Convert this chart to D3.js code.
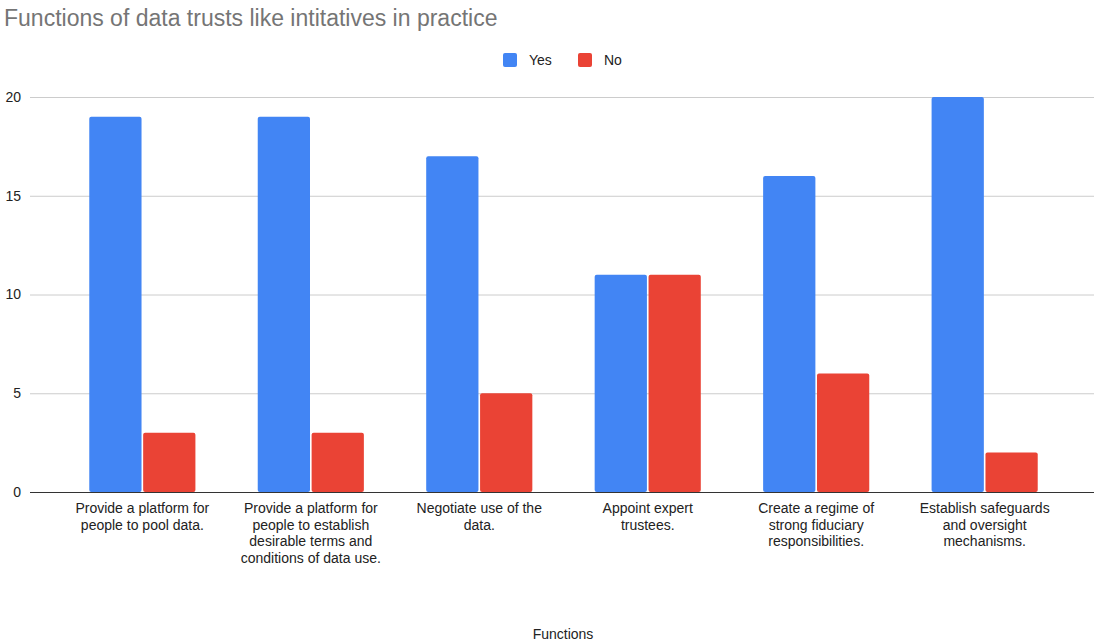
<!DOCTYPE html>
<html>
<head>
<meta charset="utf-8">
<script src="https://cdn.jsdelivr.net/npm/d3@7"></script>
<style>
	body { margin: 0; background: #fff; }
	text { font-family: Arial, "Liberation Sans", sans-serif; }
</style>
</head>
<body>
<div id="chart"></div>
<script>
var categories = [
	"Provide a platform for people to pool data.",
	"Provide a platform for people to establish desirable terms and conditions of data use.",
	"Negotiate use of the data.",
	"Appoint expert trustees.",
	"Create a regime of strong fiduciary responsibilities.",
	"Establish safeguards and oversight mechanisms."
]
var yesValues = [19, 19, 17, 11, 16, 20]
var noValues = [3, 3, 5, 11, 6, 2]
var seriesNames = ["Yes", "No"]
var seriesColors = ["#4285F4", "#EA4335"]
var yTicks = [0, 5, 10, 15, 20]

var width = 1096,
	height = 643

var plotLeft = 30,
	plotRight = 1094,
	plotTop = 97,
	plotBottom = 492

var svg = d3.select('#chart').append('svg')
	.attr('width', width)
	.attr('height', height);

var data = categories.map(function (c, i) {
	return { name: c, Yes: yesValues[i], No: noValues[i] }
})

var x0 = d3.scaleBand()
	.range([plotLeft + 2, plotRight + 1])
	.domain(categories)
	.paddingInner(0.37)
	.paddingOuter(0.34);

var x1 = d3.scaleBand()
	.range([0, x0.bandwidth()])
	.domain(seriesNames)
	.paddingInner(0.03);

var y = d3.scaleLinear()
	.range([plotBottom, plotTop])
	.domain([0, 20]);

var color = d3.scaleOrdinal()
	.domain(seriesNames)
	.range(seriesColors)

// title
svg.append('text')
	.attr('x', 4)
	.attr('y', 26)
	.attr('font-size', 23)
	.attr('fill', '#757575')
	.text('Functions of data trusts like intitatives in practice')

// gridlines + y labels
var y_axis = d3.axisLeft(y)
	.tickValues(yTicks)
	.tickSize(-(plotRight - plotLeft))
	.tickPadding(8)

var gy = svg.append('g')
	.attr('transform', 'translate(' + plotLeft + ',0)')
	.call(y_axis)
gy.select('.domain').remove()
gy.selectAll('line')
	.attr('stroke', '#cccccc')
gy.selectAll('text')
	.attr('x', -9)
	.attr('font-size', 14)
	.attr('fill', '#222')

// bars
var group = svg.selectAll('.group')
	.data(data)
	.enter().append('g')
	.attr('class', 'group')
	.attr('transform', function (d) {
		return 'translate(' + x0(d.name) + ',0)'
	})

group.selectAll('rect')
	.data(function (d) {
		return seriesNames.map(function (s) {
			return { key: s, value: d[s] }
		})
	})
	.enter().append('rect')
	.attr('x', function (d) { return x1(d.key) })
	.attr('y', function (d) { return y(d.value) })
	.attr('width', x1.bandwidth())
	.attr('height', function (d) { return y(0) - y(d.value) })
	.attr('rx', 2)
	.attr('fill', function (d) { return color(d.key) })

// baseline
svg.append('line')
	.attr('x1', plotLeft)
	.attr('x2', plotRight)
	.attr('y1', y(0) + 0.5)
	.attr('y2', y(0) + 0.5)
	.attr('stroke', '#333')

// x labels
var x_axis = d3.axisBottom(x0)
	.tickSize(0)
	.tickPadding(0)

var gx = svg.append('g')
	.attr('transform', 'translate(0,' + plotBottom + ')')
	.call(x_axis)
gx.select('.domain').remove()
gx.selectAll('text')
	.attr('font-size', 14)
	.attr('fill', '#222')
	.call(wrap, 145)

function wrap(texts, maxWidth) {
	texts.each(function () {
		var text = d3.select(this)
		var words = text.text().split(/\s+/)
		text.text(null)
		var line = []
		var lineNo = 0
		var tspan = text.append('tspan').attr('x', 0).attr('y', 21)
		words.forEach(function (w) {
			line.push(w)
			tspan.text(line.join(' '))
			if (tspan.node().getComputedTextLength() > maxWidth && line.length > 1) {
				line.pop()
				tspan.text(line.join(' '))
				line = [w]
				lineNo++
				tspan = text.append('tspan')
					.attr('x', 0)
					.attr('y', 21 + lineNo * 16.5)
					.text(w)
			}
		})
		text.attr('dy', null)
	})
}

// axis title
svg.append('text')
	.attr('x', 563)
	.attr('y', 639)
	.attr('text-anchor', 'middle')
	.attr('font-size', 14)
	.attr('fill', '#222')
	.text('Functions')

// legend
var legend = svg.append('g')
var legendX = [503, 578]
seriesNames.forEach(function (s, i) {
	legend.append('rect')
		.attr('x', legendX[i])
		.attr('y', 53)
		.attr('width', 14)
		.attr('height', 14)
		.attr('rx', 2)
		.attr('fill', color(s))
	legend.append('text')
		.attr('x', legendX[i] + 26)
		.attr('y', 65)
		.attr('font-size', 14)
		.attr('fill', '#222')
		.text(s)
})
</script>
</body>
</html>
